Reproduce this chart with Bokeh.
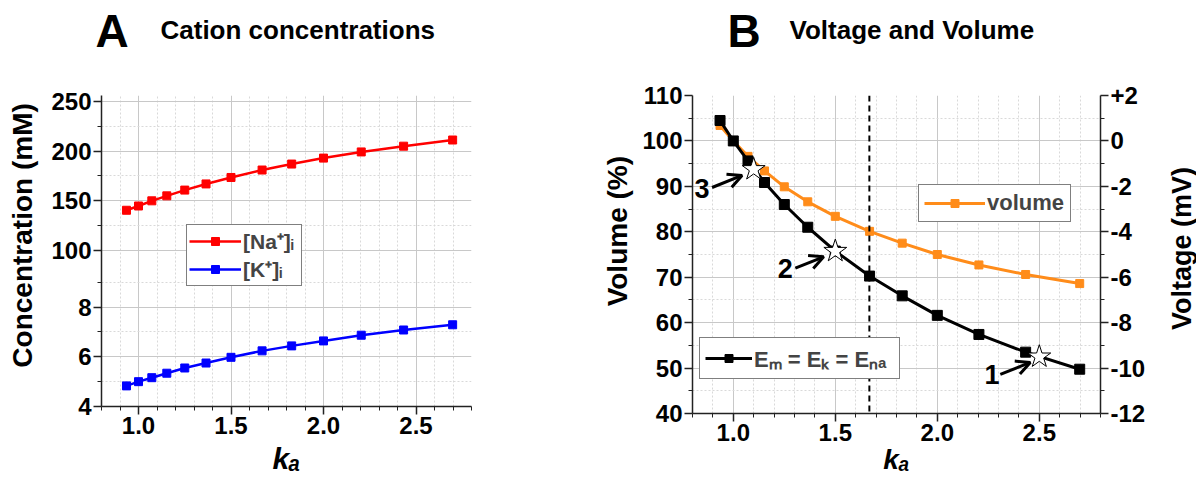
import math
from bokeh.plotting import figure
from bokeh.layouts import row, column
from bokeh.models import (Range1d, LinearAxis, FixedTicker, Legend, LegendItem,
                          Span, Arrow, OpenHead, PrintfTickFormatter)
from bokeh.core.properties import value
from bokeh.embed import file_html
from bokeh.resources import INLINE

# ---------------- data ----------------
ka = [0.935, 1.0, 1.072, 1.153, 1.25, 1.365, 1.5, 1.668, 1.828, 2.0, 2.204, 2.433, 2.698]
na_i = [140.5, 144.8, 150.0, 155.0, 160.8, 167.0, 173.5, 181.0, 187.0, 193.0, 199.2, 205.0, 211.2]
k_i = [4.83, 5.0, 5.16, 5.34, 5.55, 5.75, 5.98, 6.24, 6.44, 6.64, 6.87, 7.08, 7.29]
volume = [103.4, 100.0, 96.6, 93.4, 89.9, 86.6, 83.4, 80.1, 77.5, 75.0, 72.7, 70.6, 68.6]
em = [0.9, 0.0, -0.88, -1.83, -2.8, -3.8, -4.85, -5.95, -6.82, -7.68, -8.52, -9.3, -10.05]

star_ka = [1.1, 1.5, 2.5]
star_em = [-1.25, -4.85, -9.5]
star_tags = ["3", "2", "1"]
tag_ka = [0.847, 1.255, 2.268]
tag_vol = [89.5, 72.0, 48.6]
arrow_x0 = [0.896, 1.304, 2.309]
arrow_y0 = [89.75, 72.0, 48.6]
arrow_x1 = [1.043, 1.443, 2.456]
arrow_y1 = [92.4, 74.5, 51.25]
ka_threshold = 1.667

x_major = [1.0, 1.5, 2.0, 2.5]
x_minor = [0.8, 0.9, 1.1, 1.2, 1.3, 1.4, 1.6, 1.7, 1.8, 1.9, 2.1, 2.2, 2.3, 2.4, 2.6, 2.7, 2.8]
na_major = [100, 150, 200, 250]
na_minor = [125, 175, 225]
k_major = [4, 6, 8]
k_minor = [5, 7, 9]
vol_major = [40, 50, 60, 70, 80, 90, 100, 110]
vol_minor = [45, 55, 65, 75, 85, 95, 105]
mv_major = [-12, -10, -8, -6, -4, -2, 0, 2]
mv_minor = [-11, -9, -7, -5, -3, -1, 1]
mv_labels = ["-12", "-10", "-8", "-6", "-4", "-2", "0", "+2"]

panel_letters = ["A", "B"]
panel_titles = ["Cation concentrations", "Voltage and Volume"]
letter_x = [95, 727]
title_x = [160, 789]
letter_mid = [30, 30]
title_mid = [29, 29]
right_axis_title = ["Voltage (mV)"]
right_title_x = [21]
right_title_y = [274]   # measured upward from the bottom of the strip

FONT = "Liberation Sans"
RED = "#ff0000"
BLUE = "#0000ff"
ORANGE = "#ff8c1a"
GRID = "#c8c8c8"
MINOR_GRID = "#d9d9d9"
HEADER_H = 55
TOP = 40
BODY_H = 482 - HEADER_H
STRIP_W = 36
NBSP = "\u00a0"


def style_axis(ax, label_size="28px"):
    ax.axis_line_color = "#222222"
    ax.axis_line_width = 1.5
    ax.major_tick_line_color = "#222222"
    ax.minor_tick_line_color = "#222222"
    ax.major_tick_line_width = 1.5
    ax.major_tick_out = 8
    ax.major_tick_in = 0
    ax.minor_tick_out = 4
    ax.minor_tick_in = 0
    ax.major_label_text_font = FONT
    ax.major_label_text_font_style = "bold"
    ax.major_label_text_font_size = "24px"
    ax.major_label_text_color = "black"
    ax.major_label_standoff = 2
    ax.axis_label_text_font = FONT
    ax.axis_label_text_font_style = "bold"
    ax.axis_label_text_font_size = label_size
    ax.axis_label_text_color = "black"


def style_grid(g):
    g.grid_line_color = GRID
    g.grid_line_width = 1
    g.minor_grid_line_color = MINOR_GRID
    g.minor_grid_line_dash = "2 2"
    g.minor_grid_line_width = 1


def style_legend(lg, glyph_width=47, padding=1, font="21px", label_width=20):
    lg.border_line_color = "black"
    lg.border_line_width = 1
    lg.background_fill_color = "white"
    lg.background_fill_alpha = 1
    lg.label_text_font = FONT
    lg.label_text_font_style = "bold"
    lg.label_text_font_size = font
    lg.glyph_width = glyph_width
    lg.glyph_height = 20
    lg.label_standoff = 2
    lg.label_width = label_width
    lg.padding = padding
    lg.spacing = 0
    lg.margin = 0


def blank_figure(w, h, xr, yr):
    f = figure(frame_width=w, frame_height=h, x_range=xr, y_range=yr,
               x_axis_type=None, y_axis_type=None, output_backend="svg",
               toolbar_location=None, title=None, min_border=0)
    f.outline_line_color = None
    f.xgrid.visible = False
    f.ygrid.visible = False
    return f


# ---------------- header ----------------
hd = blank_figure(1196, HEADER_H, Range1d(0, 1196), Range1d(HEADER_H, 0))
hd.text(x=letter_x, y=letter_mid, text=panel_letters, text_font=value(FONT),
        text_font_style="bold", text_font_size="46px", text_align="left",
        text_baseline="middle", text_color="black")
hd.text(x=title_x, y=title_mid, text=panel_titles, text_font=value(FONT),
        text_font_style="bold", text_font_size="26px", text_align="left",
        text_baseline="middle", text_color="black")

# ---------------- panel A (broken y axis) ----------------
K_SCALE = 25          # Na-axis units per K unit in the lower segment
GAP = 7               # Na-axis units for the break
NA_LO = na_major[0] - (10 - k_major[0]) * K_SCALE - GAP
NA_HI = na_major[-1] + 6
A_FRAME_H = 311


def k_pos(k):
    return NA_LO + (k - k_major[0]) * K_SCALE


pa = figure(frame_width=370, frame_height=A_FRAME_H, x_range=Range1d(0.8, 2.8),
            y_range=Range1d(NA_LO, NA_HI), title=None,
            output_backend="svg", toolbar_location=None,
            min_border_left=101, min_border_right=119, min_border_top=TOP,
            min_border_bottom=BODY_H - TOP - A_FRAME_H)
pa.outline_line_color = None
pa.extra_y_ranges = {"k": Range1d(k_major[0], k_major[0] + (NA_HI - NA_LO) / K_SCALE)}

pa.xaxis.ticker = FixedTicker(ticks=x_major, minor_ticks=x_minor)
pa.xaxis.formatter = PrintfTickFormatter(format="%.1f")
pa.xaxis.axis_label = "kₐ"
style_axis(pa.xaxis[0], "30px")
pa.xaxis.axis_label_text_font_style = "bold italic"
pa.xaxis.axis_label_standoff = 5

ya_ticks = [k_pos(k) for k in k_major] + na_major
ya_minor = [k_pos(k) for k in k_minor] + na_minor
pa.yaxis.ticker = FixedTicker(ticks=ya_ticks, minor_ticks=ya_minor)
pa.yaxis.major_label_overrides = {k_pos(k): str(k) for k in k_major}
pa.yaxis.axis_label = NBSP * 4 + "Concentration (mM)"
style_axis(pa.yaxis[0])
pa.yaxis.axis_label_standoff = 10
style_grid(pa.xgrid[0])
style_grid(pa.ygrid[0])

na_l = pa.line(ka, na_i, line_color=RED, line_width=2.5)
na_s = pa.scatter(ka, na_i, marker="square", size=8, fill_color=RED, line_color=RED)
k_l = pa.line(ka, k_i, line_color=BLUE, line_width=2.5, y_range_name="k")
k_s = pa.scatter(ka, k_i, marker="square", size=8, fill_color=BLUE, line_color=BLUE, y_range_name="k")

leg_a = Legend(items=[LegendItem(label="[Na⁺]ᵢ", renderers=[na_l, na_s]),
                      LegendItem(label="[K⁺]ᵢ", renderers=[k_l, k_s])],
               location=(85, 120))
style_legend(leg_a, glyph_width=52, padding=2, label_width=56)
pa.add_layout(leg_a)

# ---------------- panel B ----------------
B_FRAME_H = 318
pb = figure(frame_width=408, frame_height=B_FRAME_H, x_range=Range1d(0.8, 2.8),
            y_range=Range1d(40, 110),
            output_backend="svg", toolbar_location=None, title=None,
            min_border_left=102, min_border_right=60, min_border_top=TOP,
            min_border_bottom=BODY_H - TOP - B_FRAME_H)
pb.outline_line_color = None
pb.extra_y_ranges = {"mv": Range1d(-12, 2)}

pb.xaxis.ticker = FixedTicker(ticks=x_major, minor_ticks=x_minor)
pb.xaxis.formatter = PrintfTickFormatter(format="%.1f")
pb.xaxis.axis_label = "kₐ"
style_axis(pb.xaxis[0], "28px")
pb.xaxis.axis_label_text_font_style = "bold italic"
pb.xaxis.axis_label_standoff = 0

pb.yaxis.ticker = FixedTicker(ticks=vol_major, minor_ticks=vol_minor)
pb.yaxis.axis_label = NBSP * 6 + "Volume (%)"
style_axis(pb.yaxis[0])
pb.yaxis.axis_label_standoff = 6

ax_r = LinearAxis(y_range_name="mv", ticker=FixedTicker(ticks=mv_major, minor_ticks=mv_minor))
ax_r.major_label_overrides = dict(zip(mv_major, mv_labels))
style_axis(ax_r)
pb.add_layout(ax_r, "right")

style_grid(pb.xgrid[0])
style_grid(pb.ygrid[0])

pb.add_layout(Span(location=ka_threshold, dimension="height", line_color="black",
                   line_width=2, line_dash="6 4"))

v_l = pb.line(ka, volume, line_color=ORANGE, line_width=3)
v_s = pb.scatter(ka, volume, marker="square", size=8, fill_color=ORANGE, line_color=ORANGE)
e_l = pb.line(ka, em, line_color="black", line_width=3, y_range_name="mv")
e_s = pb.scatter(ka, em, marker="square", size=10, fill_color="black", line_color="black",
                 y_range_name="mv")
pb.scatter(star_ka, star_em, marker="star", size=24, fill_color="white", line_color="black",
           line_width=1, y_range_name="mv")

for x0, y0, x1, y1 in zip(arrow_x0, arrow_y0, arrow_x1, arrow_y1):
    pb.add_layout(Arrow(x_start=x0, y_start=y0, x_end=x1, y_end=y1, line_width=3,
                        line_color="black",
                        end=OpenHead(size=14, line_width=3, line_color="black")))
pb.text(x=tag_ka, y=tag_vol, text=star_tags, text_font=value(FONT), text_font_style="bold",
        text_font_size="27px", text_align="center", text_baseline="middle", text_color="black")

leg_v = Legend(items=[LegendItem(label="volume", renderers=[v_l, v_s])], location=(226, 191))
style_legend(leg_v, glyph_width=61, padding=5, font="22px", label_width=78)
pb.add_layout(leg_v)
leg_e = Legend(items=[LegendItem(label="Eₘ = Eₖ = Eₙₐ", renderers=[e_l, e_s])], location=(7, 34))
style_legend(leg_e, padding=5, font="22px", label_width=140)
pb.add_layout(leg_e)

# ---------------- right strip with the voltage axis title ----------------
rs = blank_figure(STRIP_W, BODY_H, Range1d(0, STRIP_W), Range1d(0, BODY_H))
rs.text(x=right_title_x, y=right_title_y, text=right_axis_title, angle=math.pi / 2,
        text_font=value(FONT), text_font_style="bold", text_font_size="27px",
        text_align="center", text_baseline="middle", text_color="black")

layout = column(hd, row(pa, pb, rs))
open("out.html", "w").write(file_html(layout, INLINE))
